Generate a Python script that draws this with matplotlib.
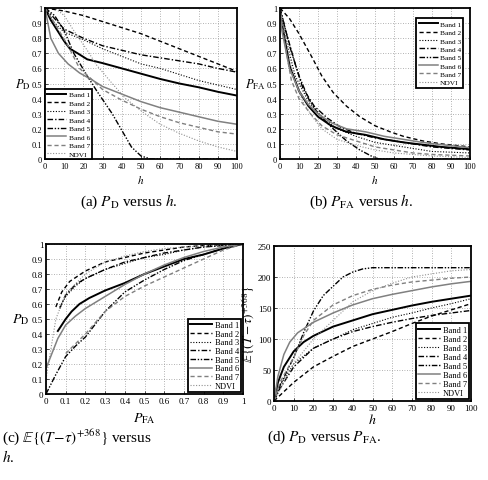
import numpy as np
import matplotlib
matplotlib.use("Agg")
import matplotlib.pyplot as plt

plt.rcParams['font.family'] = ['Liberation Serif', 'DejaVu Serif']
plt.rcParams['mathtext.fontset'] = 'stix'

bands = ['Band 1', 'Band 2', 'Band 3', 'Band 4', 'Band 5', 'Band 6', 'Band 7', 'NDVI']

# (a) P_D versus h
pd_h = [0, 3, 10, 13, 17, 22, 30, 40, 50, 60, 70, 80, 90, 100]
pd_b1 = [1, 0.92, 0.78, 0.73, 0.70, 0.66, 0.635, 0.60, 0.565, 0.53, 0.50, 0.475, 0.445, 0.42]
pd_b2_h = [0, 10, 20, 30, 40, 50, 60, 70, 80, 90, 100]
pd_b2 = [1, 0.98, 0.95, 0.91, 0.87, 0.83, 0.78, 0.73, 0.68, 0.63, 0.58]
pd_b3_h = [0, 5, 10, 20, 30, 40, 50, 60, 70, 80, 90, 100]
pd_b3 = [1, 0.90, 0.84, 0.79, 0.73, 0.68, 0.63, 0.60, 0.56, 0.52, 0.49, 0.46]
pd_b4 = [1, 0.93, 0.86, 0.80, 0.75, 0.72, 0.69, 0.67, 0.65, 0.63, 0.60, 0.575]
pd_b5_h = [0, 5, 10, 15, 22, 27, 35, 40, 45, 50, 55, 100]
pd_b5 = [1, 0.95, 0.85, 0.70, 0.55, 0.45, 0.30, 0.19, 0.08, 0.02, 0, 0]
pd_b6_h = [0, 3, 7, 12, 18, 25, 30, 40, 50, 60, 70, 80, 90, 100]
pd_b6 = [1, 0.80, 0.70, 0.63, 0.57, 0.52, 0.48, 0.43, 0.38, 0.34, 0.31, 0.28, 0.25, 0.23]
pd_b7_h = [0, 5, 12, 18, 25, 30, 40, 50, 60, 70, 80, 90, 100]
pd_b7 = [1, 0.90, 0.75, 0.60, 0.52, 0.46, 0.39, 0.33, 0.28, 0.24, 0.21, 0.18, 0.165]
pd_nd_h = [0, 5, 10, 15, 22, 27, 35, 42, 52, 60, 70, 80, 90, 100]
pd_nd = [1, 1.0, 0.95, 0.85, 0.72, 0.62, 0.50, 0.40, 0.30, 0.23, 0.17, 0.12, 0.08, 0.05]

# (b) P_FA versus h
fa_b1_h = [0, 1, 5, 10, 15, 20, 27, 35, 45, 55, 65, 75, 85, 100]
fa_b1 = [1, 0.90, 0.62, 0.45, 0.35, 0.28, 0.22, 0.18, 0.16, 0.13, 0.11, 0.095, 0.08, 0.065]
fa_b2_h = [0, 5, 10, 17, 22, 28, 35, 42, 50, 58, 65, 75, 85, 100]
fa_b2 = [1, 0.93, 0.83, 0.67, 0.55, 0.44, 0.35, 0.28, 0.22, 0.18, 0.15, 0.12, 0.10, 0.08]
fa_b3_h = [0, 3, 8, 15, 22, 30, 40, 50, 60, 70, 80, 100]
fa_b3 = [1, 0.80, 0.55, 0.38, 0.28, 0.20, 0.15, 0.11, 0.09, 0.07, 0.05, 0.04]
fa_b4_h = [0, 3, 8, 12, 18, 25, 32, 40, 50, 60, 70, 80, 90, 100]
fa_b4 = [1, 0.85, 0.63, 0.47, 0.35, 0.27, 0.21, 0.17, 0.14, 0.12, 0.10, 0.08, 0.07, 0.06]
fa_b5_h = [0, 2, 5, 10, 15, 20, 28, 35, 42, 48, 52, 100]
fa_b5 = [1, 0.90, 0.75, 0.55, 0.40, 0.30, 0.20, 0.12, 0.06, 0.02, 0, 0]
fa_b6_h = [0, 1, 5, 10, 15, 20, 27, 35, 45, 55, 65, 75, 85, 100]
fa_b6 = [1, 0.85, 0.60, 0.45, 0.36, 0.30, 0.24, 0.20, 0.18, 0.15, 0.13, 0.11, 0.095, 0.075]
fa_b7_h = [0, 2, 6, 10, 16, 22, 30, 40, 50, 60, 70, 80, 100]
fa_b7 = [1, 0.80, 0.52, 0.40, 0.30, 0.22, 0.16, 0.12, 0.08, 0.06, 0.04, 0.03, 0.02]
fa_nd_h = [0, 3, 7, 12, 17, 22, 30, 40, 50, 60, 70, 80, 100]
fa_nd = [1, 0.80, 0.55, 0.38, 0.28, 0.20, 0.13, 0.09, 0.06, 0.04, 0.03, 0.02, 0.01]

# (c) P_D versus P_FA
roc_b1_x = [0.06, 0.10, 0.13, 0.17, 0.22, 0.30, 0.40, 0.50, 0.60, 0.70, 0.80, 0.90, 1]
roc_b1_y = [0.42, 0.50, 0.55, 0.60, 0.64, 0.69, 0.74, 0.80, 0.85, 0.90, 0.93, 0.97, 1]
roc_b2_x = [0.05, 0.08, 0.12, 0.20, 0.30, 0.40, 0.50, 0.60, 0.70, 0.80, 1]
roc_b2_y = [0.58, 0.68, 0.75, 0.82, 0.88, 0.91, 0.94, 0.96, 0.98, 0.99, 1]
roc_b3_x = [0.07, 0.10, 0.15, 0.20, 0.30, 0.40, 0.50, 0.60, 0.70, 0.80, 1]
roc_b3_y = [0.58, 0.65, 0.72, 0.77, 0.83, 0.87, 0.91, 0.93, 0.96, 0.98, 1]
roc_b4_x = [0.07, 0.10, 0.15, 0.20, 0.30, 0.40, 0.50, 0.60, 0.70, 0.80, 1]
roc_b4_y = [0.57, 0.66, 0.73, 0.77, 0.83, 0.88, 0.91, 0.94, 0.96, 0.98, 1]
roc_b5_x = [0, 0.05, 0.10, 0.15, 0.20, 0.30, 0.40, 0.50, 0.60, 0.70, 0.80, 0.90, 1]
roc_b5_y = [0, 0.13, 0.25, 0.32, 0.38, 0.55, 0.68, 0.76, 0.83, 0.89, 0.93, 0.97, 1]
roc_b6_x = [0, 0.03, 0.06, 0.10, 0.15, 0.20, 0.30, 0.40, 0.50, 0.60, 0.70, 0.80, 0.90, 1]
roc_b6_y = [0.17, 0.27, 0.37, 0.46, 0.52, 0.57, 0.65, 0.73, 0.80, 0.86, 0.91, 0.95, 0.98, 1]
roc_b7_x = [0.10, 0.20, 0.30, 0.40, 0.50, 0.60, 0.70, 0.80, 0.90, 1]
roc_b7_y = [0.27, 0.40, 0.55, 0.65, 0.72, 0.78, 0.84, 0.90, 0.96, 1]
roc_nd_x = [0, 0.05, 0.10, 0.20, 0.30, 0.40, 0.50, 0.60, 0.70, 1]
roc_nd_y = [0.10, 0.50, 0.67, 0.80, 0.88, 0.92, 0.95, 0.97, 0.98, 1]

# (d) E{(T-tau)^+368} versus h
ed_h = [0, 2, 5, 10, 15, 20, 30, 40, 50, 60, 70, 80, 90, 100]
ed_b1 = [0, 30, 55, 80, 95, 105, 120, 130, 140, 147, 154, 160, 165, 170]
ed_h2 = [0, 5, 10, 20, 30, 40, 50, 60, 70, 80, 90, 100]
ed_b2 = [0, 15, 30, 55, 72, 88, 100, 112, 125, 137, 147, 157]
ed_h3 = [0, 3, 10, 20, 30, 40, 50, 60, 70, 80, 90, 100]
ed_b3 = [0, 25, 60, 85, 100, 115, 125, 135, 142, 150, 157, 165]
ed_b4 = [0, 20, 55, 85, 100, 112, 120, 127, 133, 138, 142, 146]
ed_h5 = [0, 3, 10, 15, 20, 25, 30, 35, 40, 45, 50, 100]
ed_b5 = [0, 25, 70, 110, 145, 170, 185, 200, 208, 213, 215, 215]
ed_h6 = [0, 2, 5, 8, 12, 20, 30, 40, 50, 60, 70, 80, 90, 100]
ed_b6 = [0, 40, 75, 95, 110, 127, 142, 155, 165, 172, 178, 184, 189, 193]
ed_h7 = [0, 3, 10, 15, 20, 30, 40, 50, 60, 70, 80, 90, 100]
ed_b7 = [0, 30, 70, 105, 130, 155, 170, 180, 187, 192, 195, 198, 200]
ed_hn = [0, 5, 10, 20, 30, 40, 50, 60, 70, 80, 90, 100]
ed_nd = [0, 30, 60, 100, 130, 160, 178, 190, 200, 205, 210, 212]

styles = [
    dict(color='black', ls='-', lw=1.4),
    dict(color='black', ls=(0, (3, 2)), lw=1.0),
    dict(color='black', ls=(0, (1, 1.5)), lw=0.8),
    dict(color='black', ls=(0, (4, 1.5, 1, 1.5)), lw=1.0),
    dict(color='black', ls=(0, (4, 1.2, 1, 1.2, 1, 1.2)), lw=1.0),
    dict(color='#808080', ls='-', lw=1.1),
    dict(color='#808080', ls=(0, (3, 2)), lw=1.0),
    dict(color='#909090', ls=(0, (1, 1.5)), lw=0.8),
]

W, H = 488, 481
fig = plt.figure(figsize=(W / 100, H / 100), dpi=100)


def make_ax(l, r, t, b):
    return fig.add_axes([l / W, 1 - b / H, (r - l) / W, (b - t) / H])


def style_ax(ax, fs):
    ax.grid(True, ls=(0, (1, 2)), color='#999999', lw=0.6)
    ax.tick_params(direction='in', labelsize=fs, length=2, width=0.5, pad=2)
    for s in ax.spines.values():
        s.set_linewidth(1.3)


def add_legend(ax, fs, loc, spacing, **kw):
    leg = ax.legend(bands, loc=loc, fontsize=fs, handlelength=2.6, handletextpad=0.3,
                    labelspacing=spacing, borderpad=0.3, fancybox=False, framealpha=1,
                    edgecolor='black', **kw)
    leg.get_frame().set_linewidth(1.3)


# (a)
ax = make_ax(45, 237, 9, 160)
for (x, y), st in zip([(pd_h, pd_b1), (pd_b2_h, pd_b2), (pd_b3_h, pd_b3), (pd_b3_h, pd_b4),
                       (pd_b5_h, pd_b5), (pd_b6_h, pd_b6), (pd_b7_h, pd_b7), (pd_nd_h, pd_nd)], styles):
    ax.plot(x, y, **st)
ax.set_xlim(0, 100)
ax.set_ylim(0, 1)
ax.set_xticks(np.arange(0, 101, 10))
ax.set_yticks(np.arange(0, 1.01, 0.1))
ax.set_yticklabels(['0', '0.1', '0.2', '0.3', '0.4', '0.5', '0.6', '0.7', '0.8', '0.9', '1'])
style_ax(ax, 6)
ax.set_xlabel('$h$', fontsize=8, labelpad=2)
ax.set_ylabel(r'$P_{\mathrm{D}}$', fontsize=9, rotation=0, labelpad=6, va='center')
add_legend(ax, 5.3, 'lower left', 0.32, borderaxespad=0)

# (b)
ax = make_ax(280, 470, 9, 160)
for (x, y), st in zip([(fa_b1_h, fa_b1), (fa_b2_h, fa_b2), (fa_b3_h, fa_b3), (fa_b4_h, fa_b4),
                       (fa_b5_h, fa_b5), (fa_b6_h, fa_b6), (fa_b7_h, fa_b7), (fa_nd_h, fa_nd)], styles):
    ax.plot(x, y, **st)
ax.set_xlim(0, 100)
ax.set_ylim(0, 1)
ax.set_xticks(np.arange(0, 101, 10))
ax.set_yticks(np.arange(0, 1.01, 0.1))
ax.set_yticklabels(['0', '0.1', '0.2', '0.3', '0.4', '0.5', '0.6', '0.7', '0.8', '0.9', '1'])
style_ax(ax, 6)
ax.set_xlabel('$h$', fontsize=8, labelpad=2)
ax.set_ylabel(r'$P_{\mathrm{FA}}$', fontsize=9, rotation=0, labelpad=8, va='center')
add_legend(ax, 5.3, 'upper right', 0.3, bbox_to_anchor=(0.985, 0.955))

# (c)
ax = make_ax(46, 243, 245, 395)
for (x, y), st in zip([(roc_b1_x, roc_b1_y), (roc_b2_x, roc_b2_y), (roc_b3_x, roc_b3_y),
                       (roc_b4_x, roc_b4_y), (roc_b5_x, roc_b5_y), (roc_b6_x, roc_b6_y),
                       (roc_b7_x, roc_b7_y), (roc_nd_x, roc_nd_y)], styles):
    ax.plot(x, y, **st)
ax.set_xlim(0, 1)
ax.set_ylim(0, 1)
ax.set_xticks(np.arange(0, 1.01, 0.1))
ax.set_yticks(np.arange(0, 1.01, 0.1))
tl = ['0', '0.1', '0.2', '0.3', '0.4', '0.5', '0.6', '0.7', '0.8', '0.9', '1']
ax.set_xticklabels(tl)
ax.set_yticklabels(tl)
style_ax(ax, 6.5)
ax.set_xlabel(r'$P_{\mathrm{FA}}$', fontsize=10, labelpad=4)
ax.set_ylabel(r'$P_{\mathrm{D}}$', fontsize=10, rotation=0, labelpad=8, va='center')
add_legend(ax, 6, 'lower right', 0.08, borderaxespad=0.2)

# (d)
ax = make_ax(274, 471, 247, 402)
for (x, y), st in zip([(ed_h, ed_b1), (ed_h2, ed_b2), (ed_h3, ed_b3), (ed_h3, ed_b4),
                       (ed_h5, ed_b5), (ed_h6, ed_b6), (ed_h7, ed_b7), (ed_hn, ed_nd)], styles):
    ax.plot(x, y, **st)
ax.set_xlim(0, 100)
ax.set_ylim(0, 250)
ax.set_xticks(np.arange(0, 101, 10))
ax.set_yticks(np.arange(0, 251, 50))
style_ax(ax, 6.5)
ax.set_xlabel('$h$', fontsize=10, labelpad=0)
ax.set_ylabel(r'$\mathbb{E}\{(T-\tau)^{+368}\}$', fontsize=9.5)
ax.yaxis.set_label_coords(-0.085, 0.5)
add_legend(ax, 6, 'lower right', 0.12, borderaxespad=0.2)

# captions
fig.text(129 / W, 1 - 202 / H, r'(a) $P_{\mathrm{D}}$ versus $h$.', fontsize=11, ha='center', va='center')
fig.text(361 / W, 1 - 202 / H, r'(b) $P_{\mathrm{FA}}$ versus $h$.', fontsize=11, ha='center', va='center')
fig.text(2 / W, 1 - 437 / H, r'(c) $\mathbb{E}\{(T\!-\!\tau)^{+368}\}$ versus', fontsize=11, ha='left', va='center')
fig.text(2 / W, 1 - 457 / H, r'$h$.', fontsize=11, ha='left', va='center')
fig.text(267 / W, 1 - 437 / H, r'(d) $P_{\mathrm{D}}$ versus $P_{\mathrm{FA}}$.', fontsize=11, ha='left', va='center')

fig.savefig('out.png', dpi=100)
